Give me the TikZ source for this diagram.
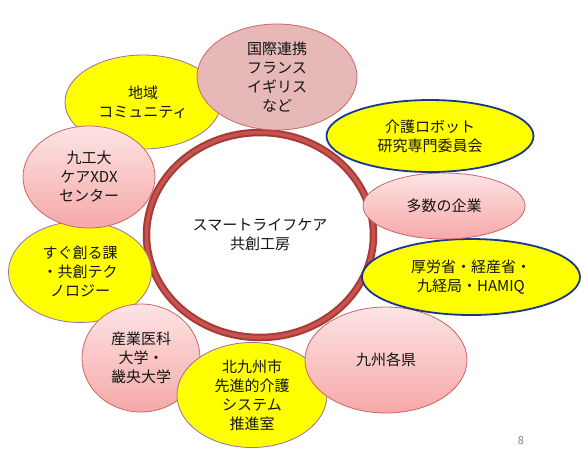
\documentclass[tikz,border=0pt]{standalone}
\usepackage{fontspec}
\newfontfamily\jpfont{Noto Sans CJK JP}
\usetikzlibrary{shapes.geometric}
\definecolor{ringred}{RGB}{200,82,78}
\definecolor{ringdark}{RGB}{165,58,55}
\definecolor{lemon}{RGB}{255,255,0}
\definecolor{lilac}{RGB}{150,110,170}
\definecolor{navy}{RGB}{25,55,140}
\definecolor{rosetop}{RGB}{253,228,228}
\definecolor{rosebot}{RGB}{246,168,168}
\definecolor{roseline}{RGB}{205,100,100}
\definecolor{dustrose}{RGB}{230,185,184}
\definecolor{ink}{RGB}{20,20,20}

\begin{document}
\begin{tikzpicture}[x=1pt, y=-1pt,
  every node/.style={font=\jpfont\fontsize{15}{19}\selectfont, text=ink,
    align=center, inner sep=0pt},
  sz/.style 2 args={ellipse, minimum width=#1, minimum height=#2},
  yel/.style={fill=lemon, draw=lilac, line width=.8pt},
  yelb/.style={fill=lemon, draw=navy, line width=1.8pt},
  pnk/.style={top color=rosetop, bottom color=rosebot, draw=roseline, line width=.8pt},
  dust/.style={fill=dustrose, draw=roseline, line width=.8pt}]
  \useasboundingbox[fill=white] (0,0) rectangle (586,451);

  % hub ring
  \node[sz={227}{205}, draw=ringdark, line width=2pt, double=ringred,
        double distance=3.5pt] (hub) at (260,235) {スマートライフケア\\共創工房};

  % partners, clockwise from top left
  \node[yel, sz={156}{94}]   (area) at (143,102) {地域\\コミュニティ};
  \node[dust, sz={160}{106}] (intl) at (277,77)  {国際連携\\フランス\\イギリス\\など};
  \node[yel, sz={143}{101}]  (sugu) at (80,272)  {すぐ創る課\\・共創テク\\ノロジー};
  \node[pnk, sz={132}{102}]  (kit)  at (89,177)  {九工大\\ケアXDX\\センター};
  \node[pnk, sz={118}{108}]  (univ) at (141,358) {産業医科\\大学・\\畿央大学};
  \node[yel, sz={150}{105}]  (city) at (252,395) {北九州市\\先進的介護\\システム\\推進室};
  \node[pnk, sz={162}{106}]  (pref) at (386,360) {九州各県};
  \node[yelb, sz={218}{76}]  (gov)  at (471,277) {厚労省・経産省・\\九経局・HAMIQ};
  \node[pnk, sz={162}{66}]   (corp) at (444,206) {多数の企業};
  \node[yelb, sz={207}{72}]  (robo) at (430,136) {介護ロボット\\研究専門委員会};

  \node[font=\jpfont\fontsize{11}{12}\selectfont, text=gray] (pg) at (521,441) {8};
\end{tikzpicture}
\end{document}
